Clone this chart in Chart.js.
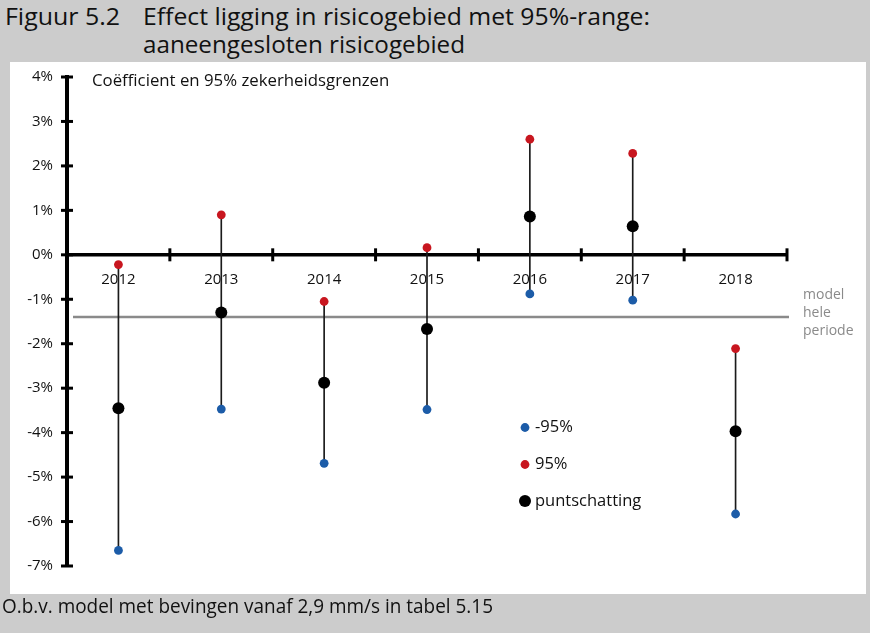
<!DOCTYPE html>
<html><head><meta charset="utf-8">
<script src="https://cdn.jsdelivr.net/npm/chart.js@4.4.0/dist/chart.umd.min.js"></script>
<style>
html,body{margin:0;padding:0;}
body{width:870px;height:633px;background:#cccccc;position:relative;overflow:hidden;font-family:"Open Sans",sans-serif;}
.t{position:absolute;white-space:nowrap;color:#111;font-family:"Open Sans",sans-serif;transform-origin:0 0;line-height:1;}
#box{position:absolute;left:10px;top:62px;width:856px;height:532px;background:#fff;}
canvas{display:block;}
</style></head><body>
<div class="t" id="t1" data-w="115" style="left:5px;top:4px;font-size:24px;">Figuur 5.2</div>
<div class="t" id="t2" data-w="507" style="left:143px;top:4px;font-size:24px;">Effect ligging in risicogebied met 95%-range:</div>
<div class="t" id="t3" data-w="322" style="left:143px;top:32px;font-size:24px;">aaneengesloten risicogebied</div>
<div id="box"><canvas id="c" width="856" height="532"></canvas></div>
<div class="t" id="f" data-w="491" style="left:2px;top:596px;font-size:19.5px;">O.b.v. model met bevingen vanaf 2,9 mm/s in tabel 5.15</div>
<script>
// ---- data ----
const years = ['2012','2013','2014','2015','2016','2017','2018'];
const lower95 = [-6.65, -3.47, -4.69, -3.48, -0.88, -1.02, -5.83];
const upper95 = [-0.22, 0.90, -1.05, 0.16, 2.60, 2.28, -2.11];
const estimate = [-3.45, -1.30, -2.88, -1.67, 0.86, 0.64, -3.97];
const modelWholePeriod = -1.40;
const yTickLabels = ['-7%','-6%','-5%','-4%','-3%','-2%','-1%','0%','1%','2%','3%','4%'];
const legendLabels = ['-95%','95%','puntschatting'];
const annotationText = 'Coëfficient en 95% zekerheidsgrenzen';
const modelLabel = ['model','hele','periode'];

// fit condensed title text widths
document.querySelectorAll('.t').forEach(el=>{
  const w = el.getBoundingClientRect().width;
  const target = +el.dataset.w;
  el.style.transform = 'scaleX(' + (target / w) + ')';
});

const BLUE = '#1c5ca8', RED = '#c8161f', BLACK = '#000000';
const FONT = '"Open Sans", sans-serif';

const decor = {
  id: 'decor',
  beforeDatasetsDraw(chart) {
    const {ctx, chartArea, scales:{y}} = chart;
    const py = Math.round(y.getPixelForValue(modelWholePeriod));
    ctx.save();
    ctx.strokeStyle = '#8a8a8a';
    ctx.lineWidth = 2.5;
    ctx.beginPath();
    ctx.moveTo(chartArea.left + 6, py);
    ctx.lineTo(chartArea.right + 2, py);
    ctx.stroke();
    ctx.fillStyle = '#8a8a8a';
    ctx.font = '14px ' + FONT;
    ctx.textBaseline = 'middle';
    ctx.textAlign = 'left';
    ctx.fillText(modelLabel[0], chartArea.right + 16, py - 22);
    ctx.fillText(modelLabel[1], chartArea.right + 16, py - 4);
    ctx.fillText(modelLabel[2], chartArea.right + 16, py + 14);
    ctx.restore();
  },
  afterDraw(chart) {
    const {ctx, chartArea, scales:{x, y}} = chart;
    ctx.save();
    ctx.strokeStyle = '#000';
    ctx.lineWidth = 3;
    // y ticks crossing the axis
    y.ticks.forEach((t, i) => {
      const py = y.getPixelForTick(i);
      ctx.beginPath();
      ctx.moveTo(chartArea.left - 6, py);
      ctx.lineTo(chartArea.left + 6, py);
      ctx.stroke();
    });
    // x ticks at category boundaries
    const y0 = y.getPixelForValue(0);
    const half = (x.getPixelForValue(1) - x.getPixelForValue(0)) / 2;
    years.forEach((yr, i) => {
      const px = x.getPixelForValue(i) + half;
      ctx.beginPath();
      ctx.moveTo(px, y0 - 6.5);
      ctx.lineTo(px, y0 + 6.5);
      ctx.stroke();
    });
    // annotation text
    ctx.fillStyle = '#111';
    ctx.font = '16.8px ' + FONT;
    ctx.textBaseline = 'middle';
    ctx.textAlign = 'left';
    ctx.fillText(annotationText, chartArea.left + 25, chartArea.top + 4);
    // legend
    const colors = [BLUE, RED, BLACK];
    const radii = [4.4, 4.4, 6];
    const lx = chartArea.left + 458, ly = [chartArea.top + 350.5, chartArea.top + 387.5, chartArea.top + 424];
    ctx.font = '16.5px ' + FONT;
    legendLabels.forEach((lab, i) => {
      ctx.fillStyle = colors[i];
      ctx.beginPath();
      ctx.arc(lx, ly[i], radii[i], 0, Math.PI * 2);
      ctx.fill();
      ctx.fillStyle = '#111';
      ctx.fillText(lab, lx + 10, ly[i]);
    });
    ctx.restore();
  }
};

new Chart(document.getElementById('c'), {
  type: 'bar',
  data: {
    labels: years,
    datasets: [
      { type: 'bar', label: 'range', data: years.map((_, i) => [lower95[i], upper95[i]]),
        backgroundColor: '#1a1a1a', barThickness: 1, order: 10 },
      { type: 'line', label: legendLabels[0], data: lower95, showLine: false,
        pointRadius: 4.4, pointBackgroundColor: BLUE, pointBorderWidth: 0, order: 3 },
      { type: 'line', label: legendLabels[1], data: upper95, showLine: false,
        pointRadius: 4.4, pointBackgroundColor: RED, pointBorderWidth: 0, order: 2 },
      { type: 'line', label: legendLabels[2], data: estimate, showLine: false,
        pointRadius: 6, pointBackgroundColor: BLACK, pointBorderWidth: 0, order: 1 }
    ]
  },
  options: {
    responsive: false,
    animation: false,
    layout: { padding: { left: 0, right: 79, top: 15, bottom: 28 } },
    plugins: { legend: { display: false }, tooltip: { enabled: false } },
    scales: {
      x: {
        position: { y: 0 },
        grid: { display: false, drawTicks: false },
        border: { display: true, color: '#000', width: 3.5 },
        ticks: { font: { family: FONT, size: 15 }, color: '#111', padding: 16, maxRotation: 0 },
        afterFit(s) { s.height = 0; s.paddingLeft = 0; s.paddingRight = 0; }
      },
      y: {
        min: -7, max: 4,
        grid: { display: false, drawTicks: false },
        border: { display: true, color: '#000', width: 4 },
        ticks: { stepSize: 1, font: { family: FONT, size: 15 }, color: '#111', padding: 14,
                 callback: (v, i) => yTickLabels[i] },
        afterFit(s) { s.width = 57; s.paddingTop = 0; s.paddingBottom = 0; }
      }
    }
  },
  plugins: [decor]
});
</script>
</body></html>
